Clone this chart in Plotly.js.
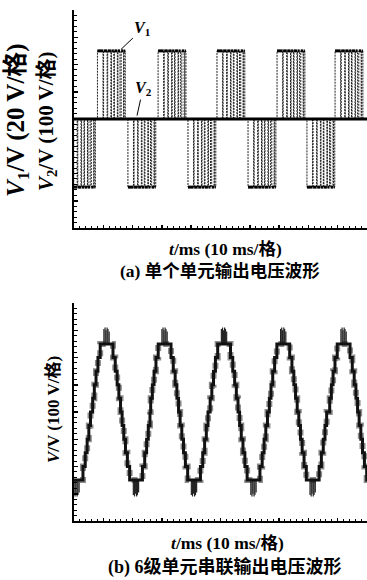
<!DOCTYPE html>
<html>
<head>
<meta charset="utf-8">
<script src="https://cdn.plot.ly/plotly-3.0.1.min.js"></script>
<style>
  html, body { margin: 0; padding: 0; background: #fff; }
  #chart { width: 367px; height: 580px; }
</style>
</head>
<body>
<div id="chart"></div>
<script>
// ---------- (a) single cell output: V1 (20 V/div), V2 (100 V/div) ----------
const v1Level = 50;                                   // V
const v1PosStart = [8.0, 28.7, 48.8, 69.3, 89.1];     // ms, start of positive pulse groups
const v1NegStart = [-2.2, 18.4, 38.9, 59.4, 79.5];    // ms, start of negative pulse groups
const v1PulseOn  = [0, 2.1, 3.5, 4.8, 5.8, 7.0, 8.1, 9.1];   // ms within a group
const v1PulseOff = [1.9, 3.3, 4.6, 5.6, 6.8, 7.7, 8.9, 9.5]; // ms within a group
const v2Time  = [0, 100];
const v2Value = [0, 0];

// ---------- (b) 6-level cascaded output (100 V/div) ----------
const vPeriodStart = [-14.2, 6.1, 25.9, 46.2, 66.4, 87.0];  // ms, rising zero crossings
const stepTime  = [0, 0.27, 0.84, 1.42, 2.07, 2.84, 7.21, 7.98, 8.63, 9.21, 9.78,
                   10.32, 10.89, 11.47, 12.12, 12.89, 17.26, 18.03, 18.68, 19.26, 19.83];
const stepLevel = [0, 50, 100, 150, 200, 250, 200, 150, 100, 50, 0,
                   -50, -100, -150, -200, -250, -200, -150, -100, -50, 0];
const spikeTime  = [4.1, 4.5, 4.8, 5.2, 5.5, 5.9, 14.15, 14.55, 14.85, 15.25, 15.55, 15.95]; // ms in period
const spikeFrom  = [250, 250, 250, 250, 250, 250, -250, -250, -250, -250, -250, -250];
const spikeTo    = [305, 310, 300, 310, 305, 295, -305, -310, -300, -310, -305, -295];

// ---------- build traces ----------
const groups = [];
v1PosStart.forEach(s => groups.push({s: s, sign: 1}));
v1NegStart.forEach(s => groups.push({s: s, sign: -1}));
groups.sort((a, b) => a.s - b.s);

const v1x = [], v1y = [], plx = [], ply = [];
groups.forEach(g => {
  for (let i = 0; i < v1PulseOn.length; i++) {
    v1x.push(g.s + v1PulseOn[i]);  v1y.push(g.sign * v1Level);
    v1x.push(g.s + v1PulseOff[i]); v1y.push(0);
    plx.push(g.s + v1PulseOn[i], g.s + v1PulseOff[i], null);
    ply.push(g.sign * v1Level, g.sign * v1Level, null);
  }
});
v1x.push(105); v1y.push(0);

const vx = [], vy = [], sx = [], sy = [];
vPeriodStart.forEach(s => {
  for (let i = 0; i < stepTime.length; i++) {
    vx.push(s + stepTime[i]); vy.push(stepLevel[i]);
  }
  for (let i = 0; i < spikeTime.length; i++) {
    sx.push(s + spikeTime[i], s + spikeTime[i], null);
    sy.push(spikeFrom[i], spikeTo[i], null);
  }
});

const traces = [
  {x: v1x, y: v1y, xaxis: 'x', yaxis: 'y', mode: 'lines', line: {shape: 'hv', width: 1, color: '#222', dash: '2px,1px'}, hoverinfo: 'skip'},
  {x: plx, y: ply, xaxis: 'x', yaxis: 'y', mode: 'lines', line: {width: 3, color: '#000'}, connectgaps: false, hoverinfo: 'skip'},
  {x: v2Time, y: v2Value, xaxis: 'x', yaxis: 'y', mode: 'lines', line: {width: 3, color: '#000'}, hoverinfo: 'skip'},
  {x: vx, y: vy, xaxis: 'x2', yaxis: 'y2', mode: 'lines', line: {shape: 'hv', width: 6, color: 'rgba(0,0,0,0.45)', dash: 'dot'}, hoverinfo: 'skip'},
  {x: sx, y: sy, xaxis: 'x2', yaxis: 'y2', mode: 'lines', line: {width: 1.2, color: '#222'}, connectgaps: false, hoverinfo: 'skip'},
  {x: vx, y: vy, xaxis: 'x2', yaxis: 'y2', mode: 'lines', line: {shape: 'hv', width: 3, color: '#111'}, hoverinfo: 'skip'}
];

// ---------- layout ----------
const W = 367, H = 580, L = 74;
const px = v => (v - L) / (W - L);
const py = v => 1 - v / H;
const FONT = "'Liberation Serif', 'Noto Sans CJK SC', serif";

function axisX(anchor) {
  return {
    anchor: anchor, domain: [0, 1], range: [0, 100],
    showline: true, linecolor: '#000', linewidth: 2,
    ticks: 'inside', ticklen: 3.5, tickwidth: 1.5, tickcolor: '#000', tick0: 0, dtick: 10,
    minor: {ticks: 'inside', ticklen: 2, tickwidth: 1, tickcolor: '#000', dtick: 2},
    showticklabels: false, showgrid: false, zeroline: false, fixedrange: true
  };
}
function axisY(anchor, dom, r, d) {
  return {
    anchor: anchor, domain: dom, range: r,
    showline: true, linecolor: '#000', linewidth: 2.5,
    ticks: 'inside', ticklen: 4, tickwidth: 1.5, tickcolor: '#000', tick0: 0, dtick: d,
    minor: {ticks: 'inside', ticklen: 2.5, tickwidth: 1, tickcolor: '#000', dtick: d / 5},
    showticklabels: false, showgrid: false, zeroline: false, fixedrange: true
  };
}

function txt(text, x, y, size, angle) {
  return {
    text: text, xref: 'paper', yref: 'paper', x: px(x), y: py(y),
    xanchor: 'center', yanchor: 'middle', showarrow: false, textangle: angle || 0,
    font: {family: FONT, size: size, color: '#000', weight: 'bold'}
  };
}

const annotations = [
  txt('<i>V</i><sub>1</sub>/V (20 V/格)', 18, 120, 25, -90),
  txt('<i>V</i><sub>2</sub>/V (100 V/格)', 47, 121, 21, -90),
  txt('<i>t</i>/ms (10 ms/格)', 226, 249, 17.5),
  txt('(a) 单个单元输出电压波形', 220, 271, 17.5),
  txt('<i>V</i>/V (100 V/格)', 53, 410, 17, -90),
  txt('<i>t</i>/ms (10 ms/格)', 227, 543, 17.5),
  txt('(b) 6级单元串联输出电压波形', 225, 567, 18),
  {text: '<i>V</i><sub>1</sub>', xref: 'x', yref: 'y', x: 16.0, y: 51, ax: 22, ay: -21,
   showarrow: true, arrowhead: 0, arrowwidth: 1, arrowcolor: '#000', standoff: 0,
   font: {family: FONT, size: 16, color: '#000', weight: 'bold'}},
  {text: '<i>V</i><sub>2</sub>', xref: 'x', yref: 'y', x: 21.5, y: 2.5, ax: 6, ay: -27,
   showarrow: true, arrowhead: 0, arrowwidth: 1, arrowcolor: '#000', standoff: 0,
   font: {family: FONT, size: 16, color: '#000', weight: 'bold'}}
];

const layout = {
  width: W, height: H,
  margin: {l: L, r: 0, t: 0, b: 0, pad: 0},
  paper_bgcolor: '#fff', plot_bgcolor: '#fff',
  showlegend: false,
  xaxis: axisX('y'),
  yaxis: axisY('x', [py(228), py(10)], [-80, 80], 20),
  xaxis2: axisX('y2'),
  yaxis2: axisY('x2', [py(521), py(303)], [-400, 400], 100),
  annotations: annotations
};

Plotly.newPlot('chart', traces, layout, {staticPlot: true, displayModeBar: false});
</script>
</body>
</html>
